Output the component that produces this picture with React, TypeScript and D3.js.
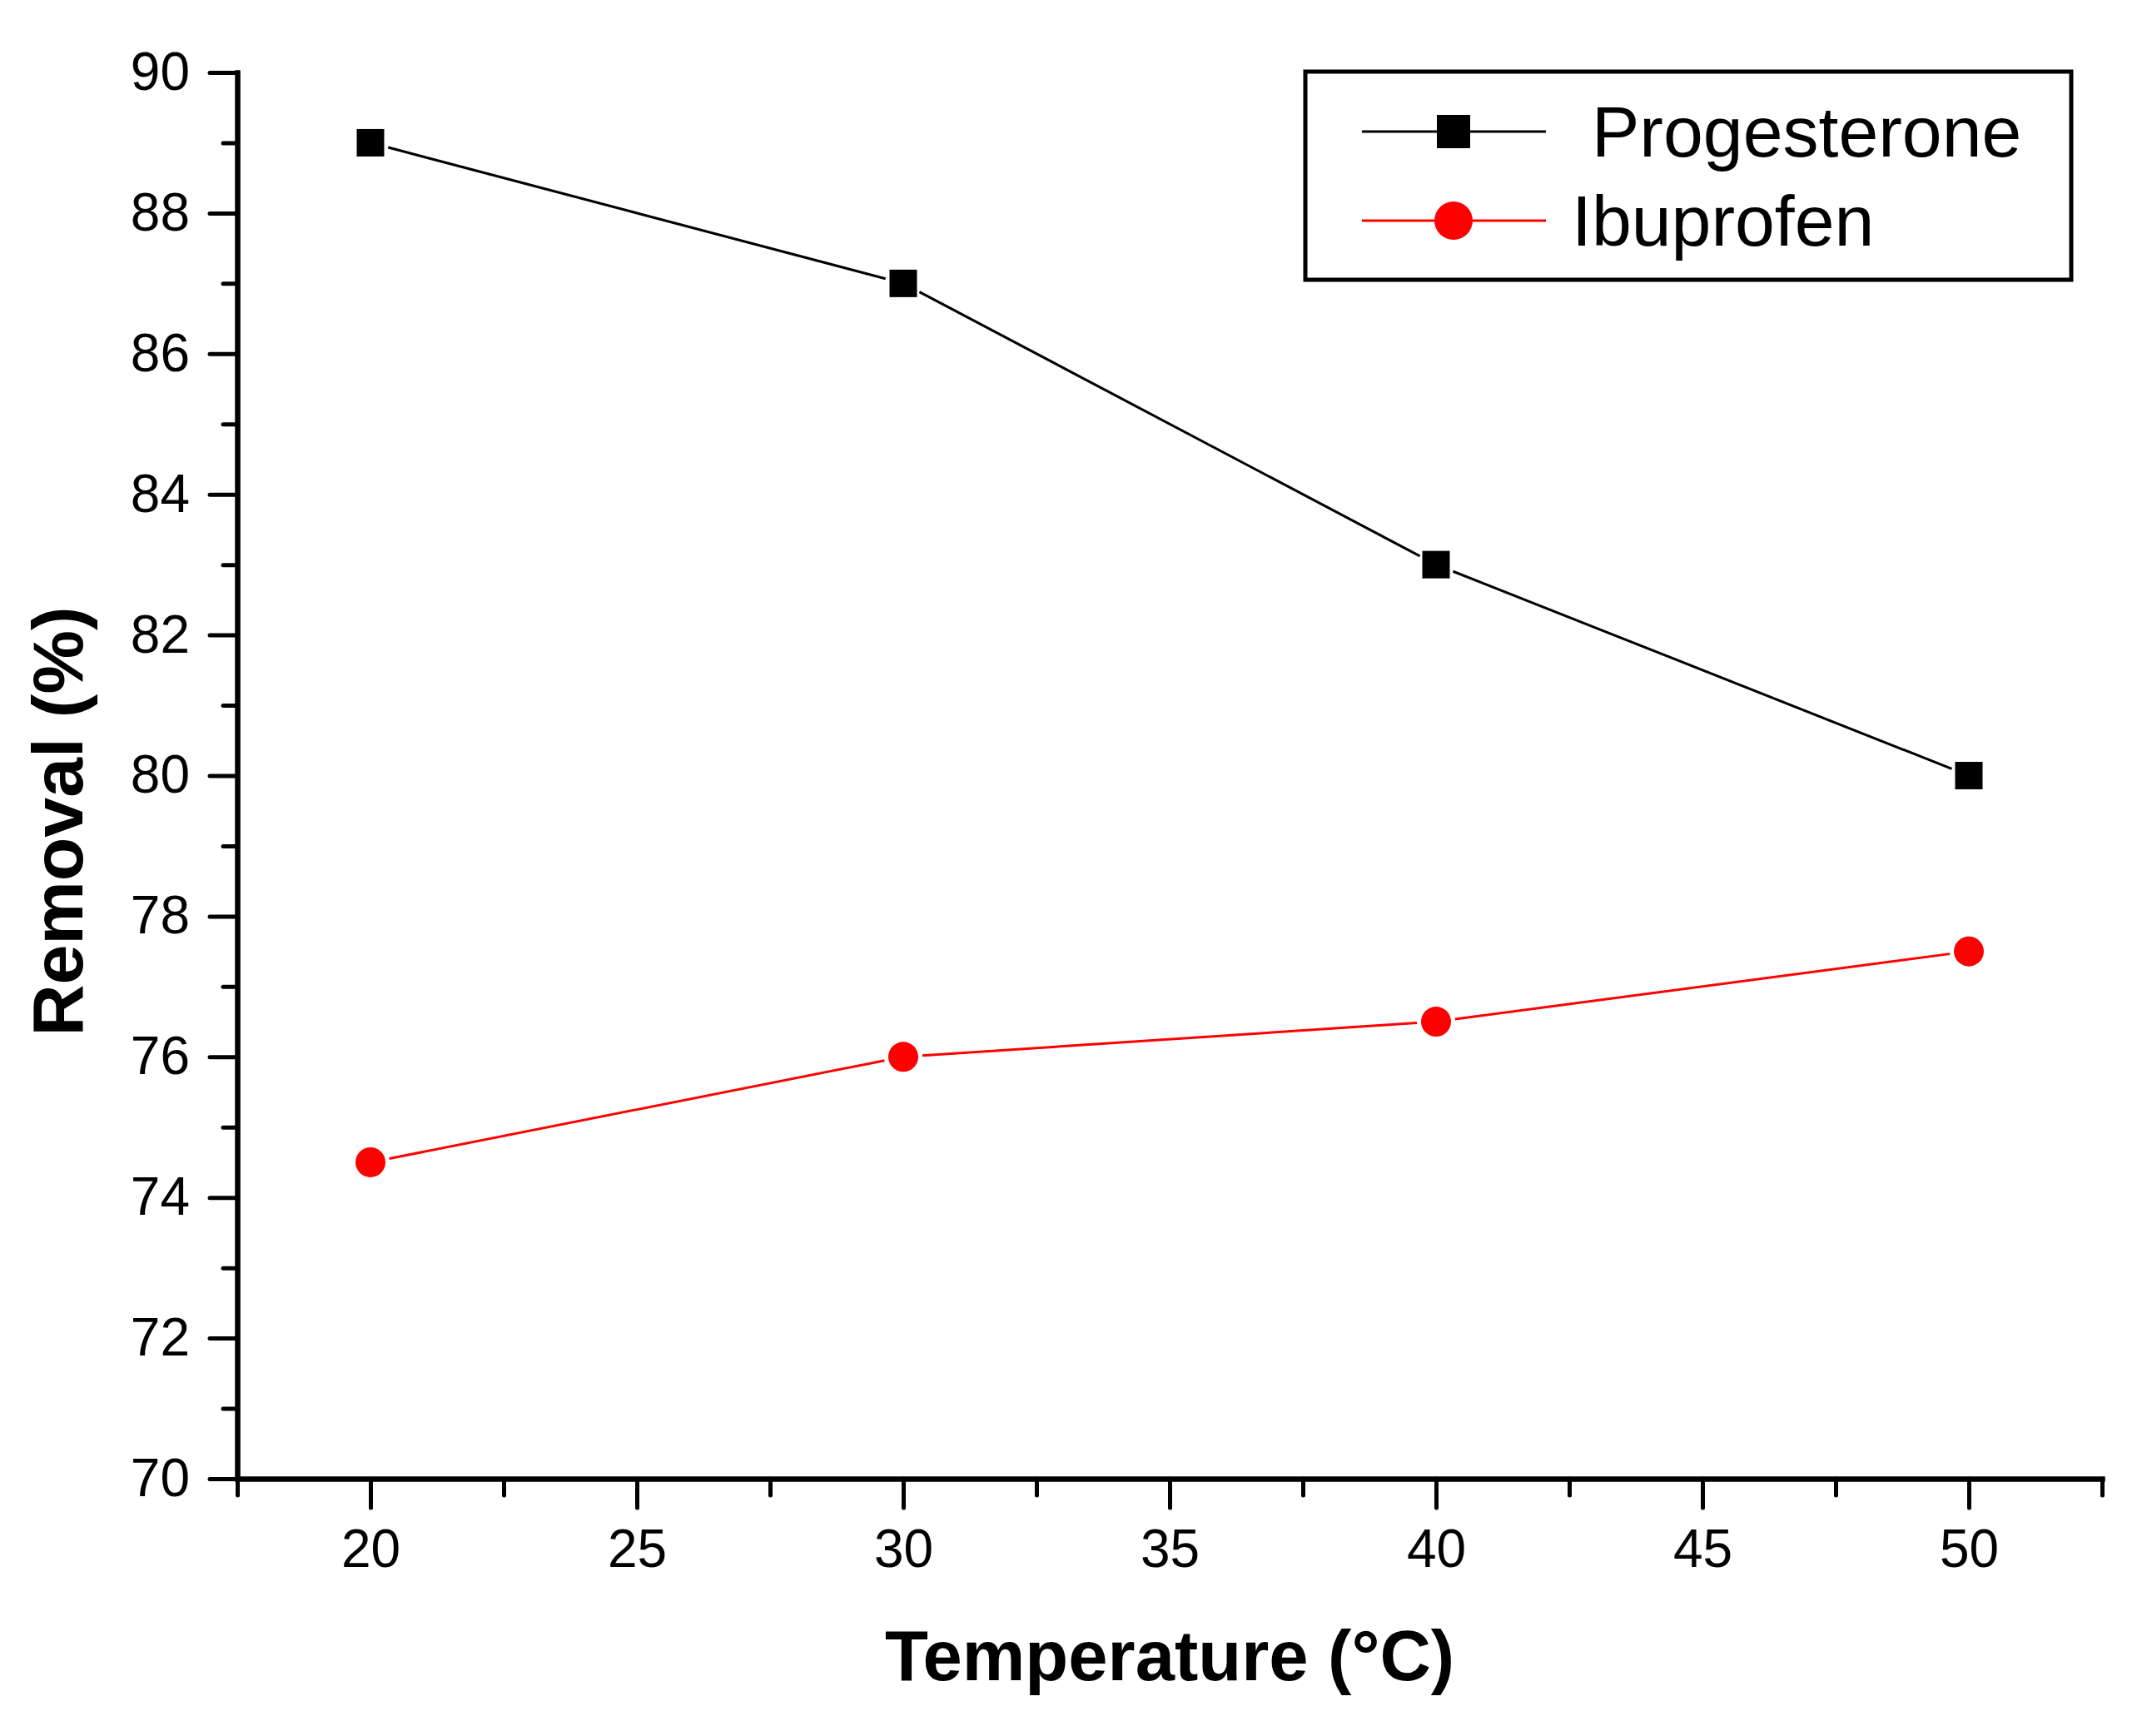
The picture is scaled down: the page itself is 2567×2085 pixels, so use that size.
import { useEffect, useRef } from "react";
import * as d3 from "d3";

const temperatures = [20, 30, 40, 50];
const progesterone = [89, 87, 83, 80];
const ibuprofen = [74.5, 76, 76.5, 77.5];
const seriesNames = ["Progesterone", "Ibuprofen"];
const xMajorTicks = [20, 25, 30, 35, 40, 45, 50];
const xMinorTicks = [17.5, 22.5, 27.5, 32.5, 37.5, 42.5, 47.5, 52.5];
const yMajorTicks = [70, 72, 74, 76, 78, 80, 82, 84, 86, 88, 90];
const yMinorTicks = [71, 73, 75, 77, 79, 81, 83, 85, 87, 89];

const W = 2567;
const H = 2085;
const FONT = "'Liberation Sans', Arial, Helvetica, sans-serif";

function App() {
    const ref = useRef<SVGSVGElement>(null);

    useEffect(() => {
        document.body.style.margin = "0";
        const svg = d3.select(ref.current);
        svg.selectAll("*").remove();

        const left = 285, right = 2525, top = 87, bottom = 1776;

        const x = d3.scaleLinear().domain([17.5, 52.5]).range([left, right]);
        const y = d3.scaleLinear().domain([70, 90]).range([bottom, top]);

        // minor ticks first, majors with labels on top
        const xMinor = svg.append("g")
            .attr("transform", `translate(0,${bottom})`)
            .call(d3.axisBottom(x).tickValues(xMinorTicks).tickSize(20).tickSizeOuter(0).tickFormat(() => ""));
        const xMajor = svg.append("g")
            .attr("transform", `translate(0,${bottom})`)
            .call(d3.axisBottom(x).tickValues(xMajorTicks).tickSize(35).tickPadding(26).tickSizeOuter(0));
        const yMinor = svg.append("g")
            .attr("transform", `translate(${left},0)`)
            .call(d3.axisLeft(y).tickValues(yMinorTicks).tickSize(17).tickSizeOuter(0).tickFormat(() => ""));
        const yMajor = svg.append("g")
            .attr("transform", `translate(${left},0)`)
            .call(d3.axisLeft(y).tickValues(yMajorTicks).tickSize(33).tickPadding(24).tickSizeOuter(0));

        [xMinor, xMajor, yMinor, yMajor].forEach((g) => {
            g.select(".domain").attr("stroke", "#000").attr("stroke-width", 6).attr("stroke-linecap", "square");
            g.selectAll(".tick line").attr("stroke", "#000").attr("stroke-width", 5).attr("stroke-linecap", "round");
            g.selectAll(".tick text")
                .attr("fill", "#000")
                .attr("font-family", FONT)
                .attr("font-size", 64);
        });

        // axis titles
        svg.append("text")
            .attr("x", (left + right) / 2)
            .attr("y", 2018)
            .attr("text-anchor", "middle")
            .attr("font-family", FONT)
            .attr("font-weight", "bold")
            .attr("font-size", 85)
            .text("Temperature (°C)");

        svg.append("text")
            .attr("transform", `translate(99,${(top + bottom) / 2 + 55}) rotate(-90)`)
            .attr("text-anchor", "middle")
            .attr("font-family", FONT)
            .attr("font-weight", "bold")
            .attr("font-size", 86)
            .text("Removal (%)");

        // line segments stop short of the markers
        const drawLine = (vals: number[], color: string, gap: number) => {
            const pts = temperatures.map((t, i) => [x(t), y(vals[i])]);
            for (let i = 0; i < pts.length - 1; i++) {
                const [x0, y0] = pts[i];
                const [x1, y1] = pts[i + 1];
                const len = Math.hypot(x1 - x0, y1 - y0);
                const ux = (x1 - x0) / len, uy = (y1 - y0) / len;
                svg.append("line")
                    .attr("x1", x0 + ux * gap).attr("y1", y0 + uy * gap)
                    .attr("x2", x1 - ux * gap).attr("y2", y1 - uy * gap)
                    .attr("stroke", color)
                    .attr("stroke-width", 3);
            }
        };
        drawLine(progesterone, "#000", 22);
        drawLine(ibuprofen, "#ff0000", 23);

        svg.append("g")
            .selectAll("rect")
            .data(progesterone)
            .enter()
            .append("rect")
            .attr("x", (_, i) => x(temperatures[i]) - 16.5)
            .attr("y", (d) => y(d) - 16.5)
            .attr("width", 33)
            .attr("height", 33)
            .attr("fill", "#000");

        svg.append("g")
            .selectAll("circle")
            .data(ibuprofen)
            .enter()
            .append("circle")
            .attr("cx", (_, i) => x(temperatures[i]))
            .attr("cy", (d) => y(d))
            .attr("r", 18)
            .attr("fill", "#ff0000");

        // legend
        const legend = svg.append("g");
        legend.append("rect")
            .attr("x", 1568).attr("y", 86)
            .attr("width", 920).attr("height", 250)
            .attr("fill", "#fff")
            .attr("stroke", "#000")
            .attr("stroke-width", 5);

        const rows = [
            { name: seriesNames[0], color: "#000", cy: 158, tx: 1912, ty: 188, shape: "square" },
            { name: seriesNames[1], color: "#ff0000", cy: 265, tx: 1888, ty: 295, shape: "circle" },
        ];
        rows.forEach((r) => {
            legend.append("line")
                .attr("x1", 1636).attr("x2", 1857)
                .attr("y1", r.cy).attr("y2", r.cy)
                .attr("stroke", r.color)
                .attr("stroke-width", 3);
            if (r.shape === "square") {
                legend.append("rect")
                    .attr("x", 1746 - 20).attr("y", r.cy - 20)
                    .attr("width", 40).attr("height", 40)
                    .attr("fill", r.color);
            } else {
                legend.append("circle")
                    .attr("cx", 1746).attr("cy", r.cy)
                    .attr("r", 23)
                    .attr("fill", r.color);
            }
            legend.append("text")
                .attr("x", r.tx).attr("y", r.ty)
                .attr("font-family", FONT)
                .attr("font-size", 86)
                .attr("fill", "#000")
                .text(r.name);
        });
    }, []);

    return <svg ref={ref} width={W} height={H} style={{ display: "block", background: "#fff" }}></svg>;
}

export default App;
